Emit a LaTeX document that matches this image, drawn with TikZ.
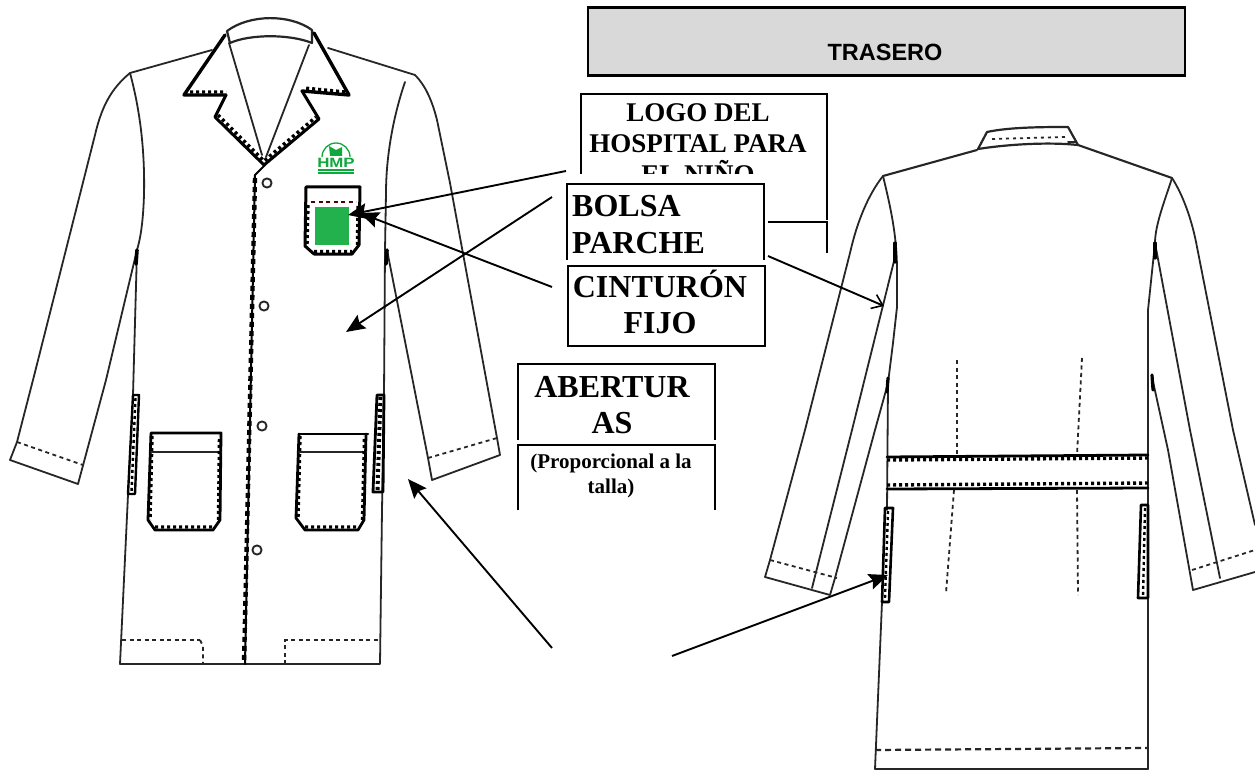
\documentclass[tikz,border=0pt]{standalone}
\usepackage{fontspec}
\setmainfont{Liberation Serif}
\newfontfamily\arialf{Liberation Sans}
\usetikzlibrary{arrows.meta}
\definecolor{logog}{HTML}{0FA83C}
\definecolor{pocketg}{HTML}{22B14C}
\definecolor{greybox}{HTML}{D9D9D9}
\tikzset{
  x=1pt,y=-1pt,
  garment/.style={draw=black!85,line width=1.8pt,line join=round,line cap=round},
  thick garment/.style={draw=black,line width=2.8pt,line join=round,line cap=round},
  seam/.style={draw=black!90,line width=1.8pt,dash pattern=on 4.5pt off 3pt},
  fine seam/.style={draw=black!85,line width=1.8pt,dash pattern=on 4pt off 3.5pt},
  stitch/.style={draw=black,line width=3.4pt,dash pattern=on 3pt off 3pt},
  frame/.style={draw=black,line width=2.1pt,line cap=rect},
  head/.style={font=\bfseries,align=center,inner sep=0pt,anchor=base},
  big/.style={head,font=\bfseries\fontsize{32}{35}\selectfont},
  mid/.style={head,font=\bfseries\fontsize{27}{31}\selectfont},
  small/.style={head,font=\bfseries\fontsize{21}{25}\selectfont},
  pointer/.style={draw=black,line width=1.9pt,-{Stealth[length=19pt,width=16pt,inset=3pt]}},
  open pointer/.style={draw=black,line width=1.9pt,-{Straight Barb[length=10pt,width=15pt,line width=1.6pt]}},
}
\begin{document}
\begin{tikzpicture}
\useasboundingbox (0,0) rectangle (1255,770);
\fill[white] (0,0) rectangle (1255,770);

% ---------- front coat ----------
% collar and neck
\draw[garment,line width=2.2pt] (227,31) .. controls (250,14) and (290,14) .. (312,30) (227,31) -- (230,43) .. controls (250,34) and (290,34) .. (312,43) -- (312,30);
\draw[garment] (229,43) -- (262,155);
\draw[garment] (309,45) -- (266,157);
% lapels
\draw[thick garment,line width=3.4pt] (225,35) -- (184,95) -- (226,95);
\draw[thick garment,line width=3.4pt] (314,33) -- (349,95) -- (302,91);
\draw[thick garment,line width=3pt] (226,95) -- (215,117) -- (264,165) -- (319,119) -- (302,91);
\draw[stitch] (218,115) -- (264,161) -- (316,117);
\draw[stitch] (190,92) -- (226,92) (345,92) -- (304,88);
% shoulders
\draw[garment] (212,50) -- (130,73);
\draw[garment] (328,48) -- (415,75);
% left sleeve
\draw[garment] (130,73) .. controls (112,88) and (102,105) .. (95,135) -- (33,380) -- (17,442) -- (10,460) -- (78,484) -- (106,380) -- (137,250);
\draw[fine seam] (17,442) -- (83,465);
% left armhole and side
\draw[garment] (130,73) .. controls (140,110) and (145,150) .. (144,195) .. controls (143,225) and (140,240) .. (137,250);
\draw[garment] (137,250) -- (133,395);
\draw[garment] (128,495) -- (120,664) -- (380,664) -- (382,510) -- (384,395) -- (385,250);
% right armhole and sleeve
\draw[garment] (405,82) .. controls (392,120) and (386,160) .. (386,193) -- (385,250);
\draw[garment] (415,75) .. controls (425,85) and (432,100) .. (437,120) -- (450,183) -- (497,438) -- (500,455) -- (432,480) -- (428,458) -- (387,250);
\draw[fine seam] (428,458) -- (497,438);
\draw[thick garment,line width=3.6pt] (387,250) -- (386,264);
\draw[thick garment,line width=3.6pt] (137,250) -- (136,264);
% placket
\draw[thick garment,line width=2pt] (265,165) -- (255,175) -- (245,664);
\draw[stitch,line width=4.4pt,dash pattern=on 5pt off 4pt] (255,178) -- (244,664);
% buttons
\draw[garment,line width=1.9pt] (267,183) circle[radius=4.6];
\draw[garment,line width=1.9pt] (264,306) circle[radius=4.6];
\draw[garment,line width=1.9pt] (262,426) circle[radius=4.6];
\draw[garment,line width=1.9pt] (257,550) circle[radius=4.6];
% chest pocket
\draw[thick garment,line width=3pt] (306,187) -- (360,187) -- (359,245) -- (352,254) -- (314,254) -- (305,246) -- cycle;
\draw[stitch] (308,205) -- (307,245) (314,251.5) -- (352,251.5) (357.5,245) -- (358,205);
\fill[pocketg] (315,207) rectangle (349,245);
\draw[fine seam,draw=black!70!red] (311,202) -- (356,202);
% lower pockets
\draw[thick garment] (151,433) -- (221,433) -- (220,520) -- (213,530) -- (155,530) -- (148,520) -- cycle;
\draw[garment,line width=2.2pt] (151,452) -- (221,452);
\draw[stitch] (152,436) -- (150,520) (155,527) -- (213,527) (218.5,520) -- (219.5,436);
\draw[thick garment] (299,434) -- (368,434);
\draw[thick garment] (299,434) -- (296,518) -- (305,530) -- (358,530) -- (364,520) -- (366,434);
\draw[garment,line width=2.2pt] (299,452) -- (366,452);
\draw[stitch] (300,436) -- (298,518) (305,527) -- (358,527) (362.5,520) -- (364.5,436);
% side openings
\draw[thick garment,line width=2.4pt] (133,395) -- (139,395) -- (135,494) -- (128,494) -- cycle;
\draw[stitch,line width=2.4pt] (135.5,398) -- (131.5,492);
\draw[thick garment] (377,395) -- (384,395) -- (383,492) -- (373,492) -- cycle;
\draw[stitch,line width=4pt] (380.5,397) -- (377.5,490);
% hems
\draw[fine seam] (122,640) -- (200,640);
\draw[fine seam] (200,640) -- (203,646) -- (203,664);
\draw[fine seam] (285,664) -- (285,640) -- (380,640);

% logo
\draw[logog,line width=1.3pt] (322,157) arc[start angle=180,end angle=360,radius=14];
\fill[logog] (329,146) -- (336,150) -- (342,147) -- (342,156) -- (330,156) -- cycle;
\node[text=logog,font=\arialf\bfseries\fontsize{13.5}{13.5}\selectfont,inner sep=0pt,xscale=1.25] (logotext) at (336,163) {HMP};
\draw[logog,line width=1.2pt] (318,170) -- (354,170) (318,173) -- (354,173);

% ---------- back coat ----------
% collar
\draw[garment,line width=2.2pt] (978,149) -- (987,132) .. controls (1010,127) and (1045,127) .. (1068,127) -- (1078,145);
\draw[garment,line width=2.2pt] (978,149) .. controls (1010,144) and (1050,142) .. (1078,145);
\draw[fine seam,dash pattern=on 3pt off 4pt] (992,139) -- (1065,137);
\draw[garment] (1068,142) -- (1076,142);
% shoulders
\draw[garment,line width=2.1pt] (883,176) -- (977,150);
\draw[garment,line width=2.1pt] (1078,145) -- (1172,178);
% left sleeve
\draw[garment] (883,176) .. controls (868,195) and (857,222) .. (850,253) -- (805,430) -- (770,560) -- (765,577) -- (830,595) -- (835,578) -- (875,430) -- (888,383);
\draw[garment] (895,257) -- (852,430) -- (812,588);
\draw[fine seam] (770,560) -- (837,578);
% left armhole and side
\draw[garment] (883,176) .. controls (890,205) and (897,235) .. (897,270) -- (897,307) -- (893,343) -- (888,383) -- (887,510);
\draw[garment] (882,602) -- (875,769);
\draw[thick garment,line width=3.2pt] (895,243) -- (895,262);
\draw[thick garment,line width=3.2pt] (888,378) -- (887,392);
% right armhole, side, sleeve
\draw[garment] (1172,178) .. controls (1165,200) and (1155,225) .. (1155,243) -- (1148,310) -- (1148,769);
\draw[garment] (1172,178) .. controls (1183,195) and (1192,220) .. (1197,247) -- (1233,430) -- (1255,525);
\draw[garment] (1155,243) -- (1190,430) -- (1220,578);
\draw[garment] (1152,377) -- (1168,450) -- (1193,590) -- (1255,572);
\draw[fine seam] (1192,570) -- (1255,550);
\draw[thick garment,line width=3.2pt] (1155,243) -- (1155,258);
\draw[thick garment,line width=3.2pt] (1152,375) -- (1153,390);
% belt
\draw[thick garment] (887,457) -- (1148,455);
\draw[stitch] (887,460) -- (1148,458);
\draw[stitch] (887,485) -- (1148,483);
\draw[thick garment] (887,489) -- (1148,488);
% darts
\draw[fine seam] (957,360) -- (957,456);
\draw[fine seam] (954,490) -- (946,593);
\draw[fine seam] (1082,358) -- (1077,455);
\draw[fine seam] (1077,490) -- (1078,595);
% side openings
\draw[thick garment,line width=2.6pt] (885,508) -- (893,508) -- (889,602) -- (882,602) -- cycle;
\draw[stitch,line width=2.4pt] (888,511) -- (885,598);
\draw[thick garment,line width=2.6pt] (1141,505) -- (1148,505) -- (1148,598) -- (1138,598) -- cycle;
\draw[stitch,line width=2.4pt] (1145,508) -- (1143,596);
% hem
\draw[fine seam,line width=2.2pt,dash pattern=on 6pt off 4pt] (875,750) -- (1147,748);
\draw[garment] (875,769) -- (1148,769);

% ---------- labels ----------
% title
\node[frame,fill=greybox,minimum width=597pt,minimum height=68pt,anchor=north west,inner sep=0pt] (titlebox) at (586.5,6.5) {};
\node[font=\arialf\bfseries\fontsize{23.5}{26}\selectfont,inner sep=0pt,anchor=base] (title) at (885,61) {TRASERO};

% logo label
\node[mid] (logo1) at (698,122) {LOGO DEL};
\node[mid] (logo2) at (698,153) {HOSPITAL PARA};
\node[mid] (logo3) at (698,184) {EL NIÑO};
\coordinate (lgA) at (581,173);
\coordinate (lgB) at (581,94);
\coordinate (lgC) at (827,94);
\coordinate (lgD) at (827,219);
\draw[frame] (lgA) -- (lgB) -- (lgC) -- (lgD);
\coordinate (lgE) at (769,222);
\coordinate (lgF) at (827,222);
\coordinate (lgG) at (827,252);
\draw[frame] (lgE) -- (lgF) -- (lgG);

% bolsa label
\node[fill=white,minimum width=214pt,minimum height=10pt,inner sep=0pt,anchor=north west] (mask) at (560,174) {};
\node[big,anchor=base west] (bolsa1) at (572,217) {BOLSA};
\node[big,anchor=base west] (bolsa2) at (572,253) {PARCHE};
\coordinate (boA) at (567,259);
\coordinate (boB) at (567,184);
\coordinate (boC) at (764,184);
\coordinate (boD) at (764,259);
\draw[frame] (boA) -- (boB) -- (boC) -- (boD);

% cinturon label
\node[frame,minimum width=197pt,minimum height=80pt,anchor=north west,inner sep=0pt] (cintbox) at (567,265) {};
\node[big] (cint1) at (660,297) {CINTURÓN};
\node[big] (cint2) at (660,333) {FIJO};

% aberturas label
\node[big] (ab1) at (612,397) {ABERTUR};
\node[big] (ab2) at (612,433) {AS};
\coordinate (abA) at (518,439);
\coordinate (abB) at (518,364);
\coordinate (abC) at (715,364);
\coordinate (abD) at (715,439);
\draw[frame] (abA) -- (abB) -- (abC) -- (abD);
\coordinate (acA) at (518,509);
\coordinate (acB) at (518,445);
\coordinate (acC) at (715,445);
\coordinate (acD) at (715,509);
\draw[frame] (acA) -- (acB) -- (acC) -- (acD);
\node[small] (prop1) at (611,468) {(Proporcional a la};
\node[small] (prop2) at (611,493) {talla)};

% ---------- arrows ----------
\coordinate (a1s) at (566,171);
\coordinate (a1e) at (348,215);
\coordinate (a2s) at (552,287);
\coordinate (a2e) at (360,213);
\coordinate (a3s) at (552,197);
\coordinate (a3e) at (346,332);
\coordinate (a4s) at (768,256);
\coordinate (a4e) at (884,306);
\coordinate (a5s) at (552,648);
\coordinate (a5e) at (408,479);
\coordinate (a6s) at (672,656);
\coordinate (a6e) at (888,575);
\draw[pointer] (a1s) -- (a1e);
\draw[pointer] (a2s) -- (a2e);
\draw[pointer] (a3s) -- (a3e);
\draw[open pointer] (a4s) -- (a4e);
\draw[pointer] (a5s) -- (a5e);
\draw[pointer] (a6s) -- (a6e);
\end{tikzpicture}
\end{document}
